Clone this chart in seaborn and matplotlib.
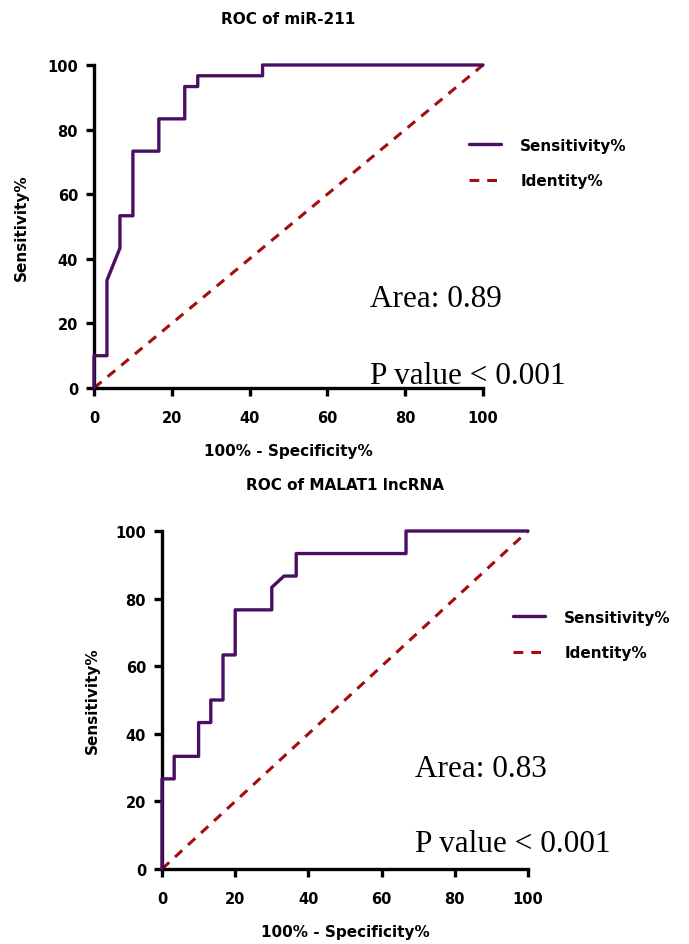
import numpy as np
import pandas as pd
import matplotlib
matplotlib.use("Agg")
import matplotlib.pyplot as plt
import seaborn as sns

# ---- data ----
mir_fpr = [0, 0, 3.33, 3.33, 6.67, 6.67, 10, 10, 16.67, 16.67, 23.33, 23.33, 26.67, 26.67, 43.33, 43.33, 100]
mir_tpr = [0, 10, 10, 33.33, 43.33, 53.33, 53.33, 73.33, 73.33, 83.33, 83.33, 93.33, 93.33, 96.67, 96.67, 100, 100]

malat_fpr = [0, 0, 3.33, 3.33, 10, 10, 13.33, 13.33, 16.67, 16.67, 20, 20, 30, 30, 33.33, 36.67, 36.67, 66.67, 66.67, 100]
malat_tpr = [0, 26.67, 26.67, 33.33, 33.33, 43.33, 43.33, 50, 50, 63.33, 63.33, 76.67, 76.67, 83.33, 86.67, 86.67, 93.33, 93.33, 100, 100]

identity = [0, 100]
ticks = [0, 20, 40, 60, 80, 100]

titles = ["ROC of miR-211", "ROC of MALAT1 lncRNA"]
areas = ["Area: 0.89", "Area: 0.83"]
pvals = ["P value < 0.001", "P value < 0.001"]

purple = "#4a0f62"
red = "#a50d0d"

sns.set_theme(style="ticks")
plt.rcParams['font.family'] = ['DejaVu Sans']
for k in ["text.color", "axes.labelcolor", "xtick.color", "ytick.color", "axes.edgecolor"]:
    plt.rcParams[k] = "black"

fig = plt.figure(figsize=(6.89, 9.45), dpi=100)
ax1 = fig.add_axes([94/689, 1-389/945, (483-94)/689, (389-66)/945])
ax2 = fig.add_axes([162/689, 1-870/945, (528-162)/689, (870-532)/945])

configs = [
    (ax1, mir_fpr, mir_tpr, titles[0], areas[0], pvals[0], (71, 27.6), (71, 3.8), (469, 164), 13.5),
    (ax2, malat_fpr, malat_tpr, titles[1], areas[1], pvals[1], (69, 29.6), (69, 7.4), (513, 636), 11),
]

lab_font = {"family": "DejaVu Sans", "weight": "bold", "size": 11}

for ax, fx, ty, title, area, pv, apos, ppos, legpos, ylp in configs:
    df = pd.DataFrame({"x": fx, "y": ty})
    did = pd.DataFrame({"x": identity, "y": identity})
    sns.lineplot(data=df, x="x", y="y", sort=False, estimator=None, color=purple,
                 lw=2.4, ax=ax, label="Sensitivity%", clip_on=False, zorder=3)
    sns.lineplot(data=did, x="x", y="y", sort=False, estimator=None, color=red,
                 lw=2.2, ax=ax, label="Identity%", clip_on=False, zorder=2)
    ax.lines[1].set_dashes([3.2, 2.6])
    ax.set_xlim(0, 100)
    ax.set_ylim(0, 100)
    ax.set_xticks(ticks)
    ax.set_yticks(ticks)
    ax.set_xticklabels([str(t) for t in ticks], fontsize=10.5, fontweight="bold")
    ax.set_yticklabels([str(t) for t in ticks], fontsize=10.5, fontweight="bold")
    for s in ["top", "right"]:
        ax.spines[s].set_visible(False)
    for s in ["left", "bottom"]:
        ax.spines[s].set_linewidth(2.4)
        ax.spines[s].set_color("black")
    ax.tick_params(axis="both", direction="out", length=6, width=2.4, color="black",
                   labelcolor="black")
    ax.tick_params(axis="x", pad=10)
    ax.tick_params(axis="y", pad=5.5)
    ax.set_xlabel("100% - Specificity%", fontdict=lab_font, labelpad=13)
    ax.set_ylabel("Sensitivity%", fontdict=lab_font, labelpad=ylp)
    ax.set_title(title, fontdict=lab_font, pad=30)
    ax.text(apos[0], apos[1], area, fontsize=22.5, family="Liberation Serif", va="center", ha="left")
    ax.text(ppos[0], ppos[1], pv, fontsize=22.5, family="Liberation Serif", va="center", ha="left")
    leg = ax.legend(loc="center left", bbox_to_anchor=(legpos[0]/689, 1-legpos[1]/945),
                    bbox_transform=fig.transFigure, frameon=False, borderpad=0, borderaxespad=0,
                    handlelength=2.1, handletextpad=1.25, labelspacing=1.35,
                    prop={"family": "DejaVu Sans", "weight": "bold", "size": 11})

fig.savefig("out.png", dpi=100)
